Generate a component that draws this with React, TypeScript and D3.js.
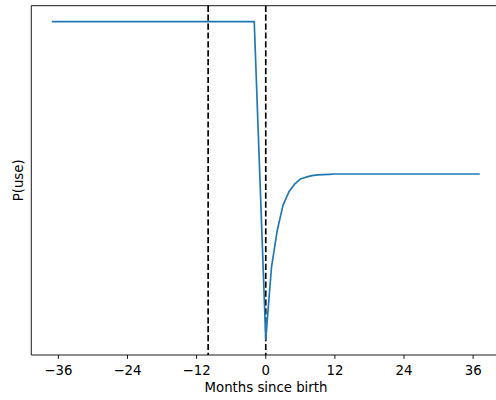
import React from "react";
import * as d3 from "d3";

// months since birth and the modelled probability of use
const preMonths = [-37, -2];
const preValues = [1.0, 1.0];
const postMonths = [0, 1, 2, 3, 4, 5, 6, 7, 8, 9, 10, 11, 12, 37];
const postValues = [0.0, 0.227, 0.343, 0.422, 0.463, 0.488, 0.504, 0.51, 0.515, 0.517, 0.518, 0.519, 0.52, 0.52];
const markerMonths = [-10, 0];
const xTicks = [-36, -24, -12, 0, 12, 24, 36];

const W = 496;
const H = 400;
const left = 31.3;
const right = 500.2;
const top = 5.7;
const bottom = 355;
const font = "DejaVu Sans, sans-serif";
const fs = 13.3;

export default function App() {
  const months = [...preMonths, ...postMonths];
  const values = [...preValues, ...postValues];
  const xmin = d3.min(months)!, xmax = d3.max(months)!;
  const ymin = d3.min(values)!, ymax = d3.max(values)!;
  const xpad = (xmax - xmin) * 0.05;
  const ypad = (ymax - ymin) * 0.05;

  const x = d3.scaleLinear().domain([xmin - xpad, xmax + xpad]).range([left, right]);
  const y = d3.scaleLinear().domain([ymin - ypad, ymax + ypad]).range([bottom, top]);

  const line = d3.line<[number, number]>()
    .x(d => x(d[0]))
    .y(d => y(d[1]));
  const pts: [number, number][] = months.map((m, i) => [m, values[i]]);

  const fmt = (v: number) => (v < 0 ? "\u2212" + Math.abs(v) : String(v));

  return (
    <svg width={W} height={H} style={{ position: "absolute", left: 0, top: 0, background: "#fff" }}>
      <rect x={0} y={0} width={W} height={H} fill="#fff" />
      {markerMonths.map(m => (
        <line key={m} x1={x(m)} x2={x(m)} y1={top} y2={bottom}
          stroke="#000" strokeWidth={1.67} strokeDasharray="6.2 2.7" />
      ))}
      <path d={line(pts) || ""} fill="none" stroke="#1f77b4" strokeWidth={1.67}
        strokeLinejoin="round" strokeLinecap="square" />
      {/* spines */}
      <g stroke="#000" strokeWidth={0.9} fill="none">
        <line x1={left} x2={left} y1={top} y2={bottom} />
        <line x1={right} x2={right} y1={top} y2={bottom} />
        <line x1={left} x2={right} y1={top} y2={top} />
        <line x1={left} x2={right} y1={bottom} y2={bottom} />
      </g>
      {xTicks.map(t => (
        <g key={t} transform={`translate(${x(t)},${bottom})`}>
          <line y1={0} y2={3.9} stroke="#000" strokeWidth={0.9} />
          <text y={20} textAnchor="middle" fontFamily={font} fontSize={fs} fill="#000">{fmt(t)}</text>
        </g>
      ))}
      <text x={266} y={391.7} textAnchor="middle" fontFamily={font} fontSize={fs} fill="#000">
        Months since birth
      </text>
      <text transform={`translate(23,${(top + bottom) / 2}) rotate(-90)`} textAnchor="middle"
        fontFamily={font} fontSize={fs} fill="#000">P(use)</text>
    </svg>
  );
}
